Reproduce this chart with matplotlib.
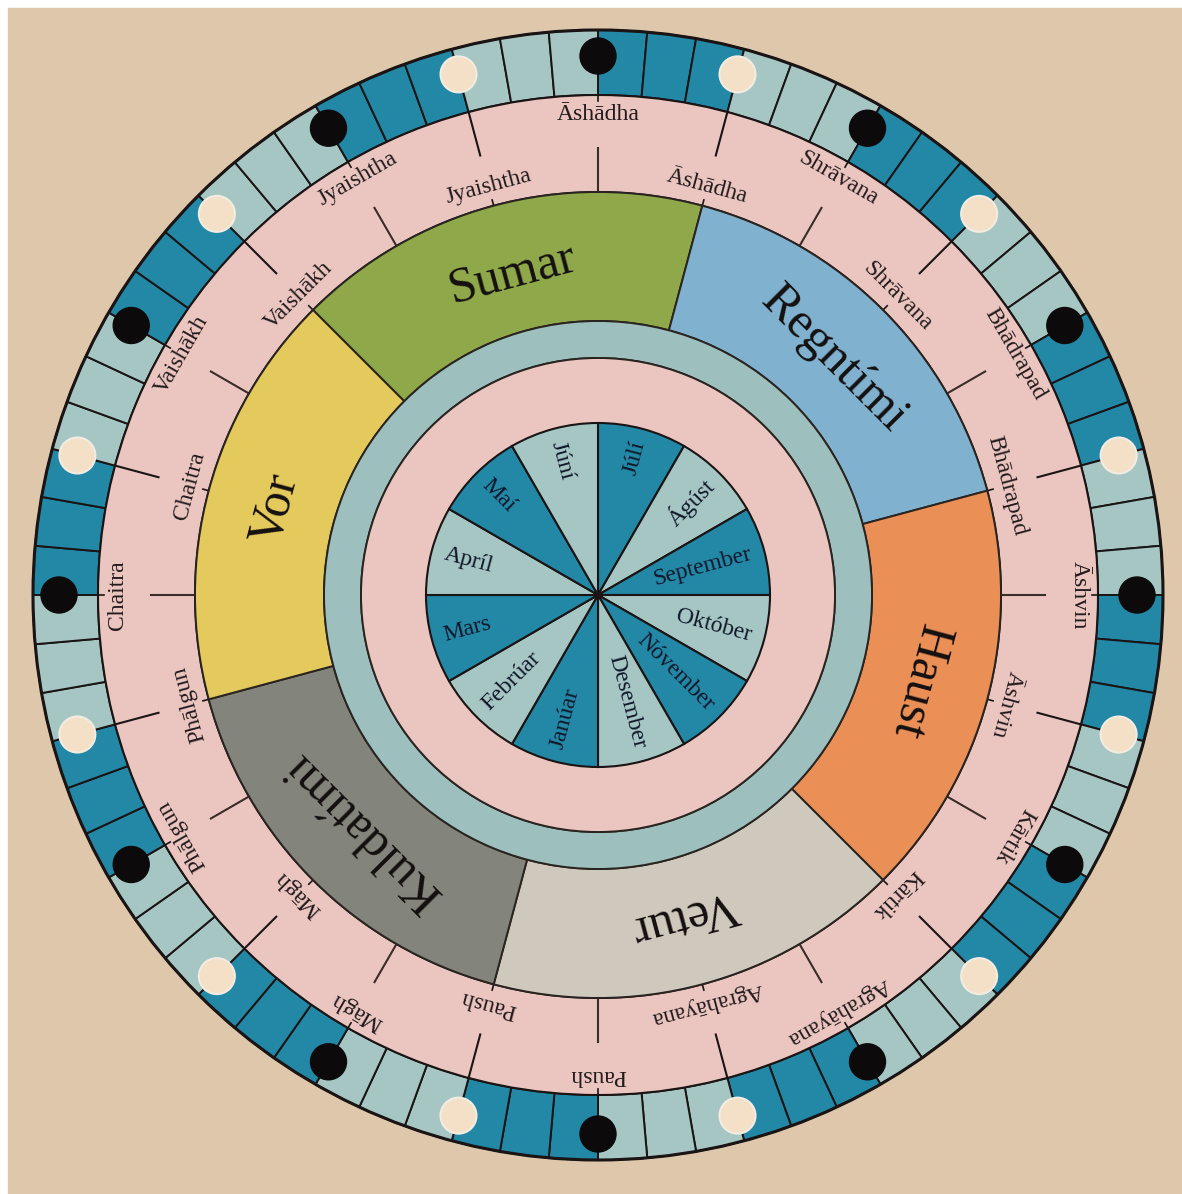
import numpy as np
import matplotlib.pyplot as plt
from matplotlib.patches import Wedge, Circle, Rectangle

# --- gogn ---
manudir = ["Júlí", "Ágúst", "September", "Október", "Nóvember", "Desember",
           "Janúar", "Febrúar", "Mars", "Apríl", "Maí", "Júní"]
arstidir = ["Sumar", "Regntími", "Haust", "Vetur", "Kuldatími", "Vor"]
arstid_litir = ["#8fa84a", "#80b1cf", "#ea8f55", "#cfc9bd", "#83847b", "#e4c95c"]
hindu_manudir = ["Āshādha", "Shrāvana", "Bhādrapad", "Āshvin", "Kārtik", "Agrahāyana",
                 "Paush", "Māgh", "Phālgun", "Chaitra", "Vaishākh", "Jyaishtha"]
n_reitir = 72          # reitir i tunglhringnum
reitir_i_blokk = 3

# --- litir ---
bakgrunnur = "#dec7aa"
bleikt = "#ebc6c0"
dokkblatt = "#2387a6"
ljosblatt = "#a6c6c4"
hringur_litur = "#9dbfbd"
lina = "#1a1414"
texti = "#221a1c"
font = "Liberation Serif"

# radiusar (pixlar)
R_UT = 565
R_REITIR = 500
R_ARST = 403
R_ARST_INN = 274
R_HRINGUR_INN = 237
R_SKIFA = 172

fig = plt.figure(figsize=(11.82, 11.94), dpi=100)
fig.patch.set_facecolor("white")
ax = fig.add_axes([0, 0, 1, 1])
ax.set_xlim(-598, 584)
ax.set_ylim(-599, 595)
ax.axis("off")

ax.add_patch(Rectangle((-590, -599), 1182, 1186, color=bakgrunnur, zorder=0))


def pol(r, a):
    t = np.deg2rad(a)
    return r * np.cos(t), r * np.sin(t)


# tunglhringur
for k in range(n_reitir):
    a2 = 90 - 5 * k
    a1 = a2 - 5
    litur = dokkblatt if (k // reitir_i_blokk) % 2 == 0 else ljosblatt
    ax.add_patch(Wedge((0, 0), R_UT, a1, a2, width=R_UT - R_REITIR,
                       facecolor=litur, edgecolor=lina, lw=1.4, zorder=1))
ax.add_patch(Circle((0, 0), R_UT, fill=False, edgecolor=lina, lw=2.2, zorder=2))

for j in range(n_reitir // reitir_i_blokk):
    a = 90 - 15 * j
    x, y = pol(539, a)
    if j % 2 == 0:
        ax.add_patch(Circle((x, y), 18, facecolor="#0c0a0a", edgecolor="#0c0a0a", zorder=3))
    else:
        ax.add_patch(Circle((x, y), 18, facecolor="#f4e0c6", edgecolor="#f2ece2", lw=1.5, zorder=3))

# bleikt band
ax.add_patch(Wedge((0, 0), R_REITIR, 0, 360, width=R_REITIR - R_ARST,
                   facecolor=bleikt, edgecolor=lina, lw=1.5, zorder=1))

# strik og hindu manudir
for i, nafn in enumerate(hindu_manudir):
    a = 90 - 30 * i
    ax.plot(*zip(pol(R_ARST, a), pol(447, a)), color="#3a2c26", lw=1.5, zorder=2)
    ax.plot(*zip(pol(R_REITIR, a), pol(494, a)), color=lina, lw=1.2, zorder=2)
    x, y = pol(481, a)
    ax.text(x, y, nafn, rotation=a - 90, rotation_mode="anchor", ha="center", va="center",
            fontsize=17, family=font, color=texti, zorder=4)

    b = a - 15
    ax.plot(*zip(pol(R_REITIR, b), pol(455, b)), color=lina, lw=1.5, zorder=2)
    ax.plot(*zip(pol(R_ARST, b), pol(409, b)), color=lina, lw=1.2, zorder=2)
    x, y = pol(423, b)
    ax.text(x, y, nafn, rotation=b - 90, rotation_mode="anchor", ha="center", va="center",
            fontsize=17, family=font, color=texti, zorder=4)

# arstidir
for j, (nafn, litur) in enumerate(zip(arstidir, arstid_litir)):
    a2 = 135 - 60 * j
    a1 = a2 - 60
    ax.add_patch(Wedge((0, 0), R_ARST, a1, a2, width=R_ARST - R_ARST_INN,
                       facecolor=litur, edgecolor="#2a2420", lw=1.4, zorder=2))
    m = a2 - 30
    x, y = pol(333, m)
    ax.text(x, y, nafn, rotation=m - 90, rotation_mode="anchor", ha="center", va="center",
            fontsize=36, family=font, color="#141010", zorder=4)

# blagraenn hringur og bleik skifa
ax.add_patch(Wedge((0, 0), R_ARST_INN, 0, 360, width=R_ARST_INN - R_HRINGUR_INN,
                   facecolor=hringur_litur, edgecolor="#2a2420", lw=1.4, zorder=2))
ax.add_patch(Circle((0, 0), R_HRINGUR_INN, facecolor=bleikt, edgecolor="#2a2420", lw=1.4, zorder=2))

# manadaskifa
for k, nafn in enumerate(manudir):
    a2 = 90 - 30 * k
    a1 = a2 - 30
    litur = dokkblatt if k % 2 == 0 else ljosblatt
    ax.add_patch(Wedge((0, 0), R_SKIFA, a1, a2, facecolor=litur,
                       edgecolor=lina, lw=1.5, zorder=3))
    m = (a2 - 15 + 180) % 360 - 180
    x, y = pol(159, m)
    if np.cos(np.deg2rad(m)) >= 0:
        ax.text(x, y, nafn, rotation=m, rotation_mode="anchor", ha="right", va="center",
                fontsize=17, family=font, color="#10182a", zorder=4)
    else:
        ax.text(x, y, nafn, rotation=m - 180, rotation_mode="anchor", ha="left", va="center",
                fontsize=17, family=font, color="#10182a", zorder=4)
ax.add_patch(Circle((0, 0), 4, color=lina, zorder=5))

fig.savefig("out.png", dpi=100, facecolor=fig.get_facecolor())
